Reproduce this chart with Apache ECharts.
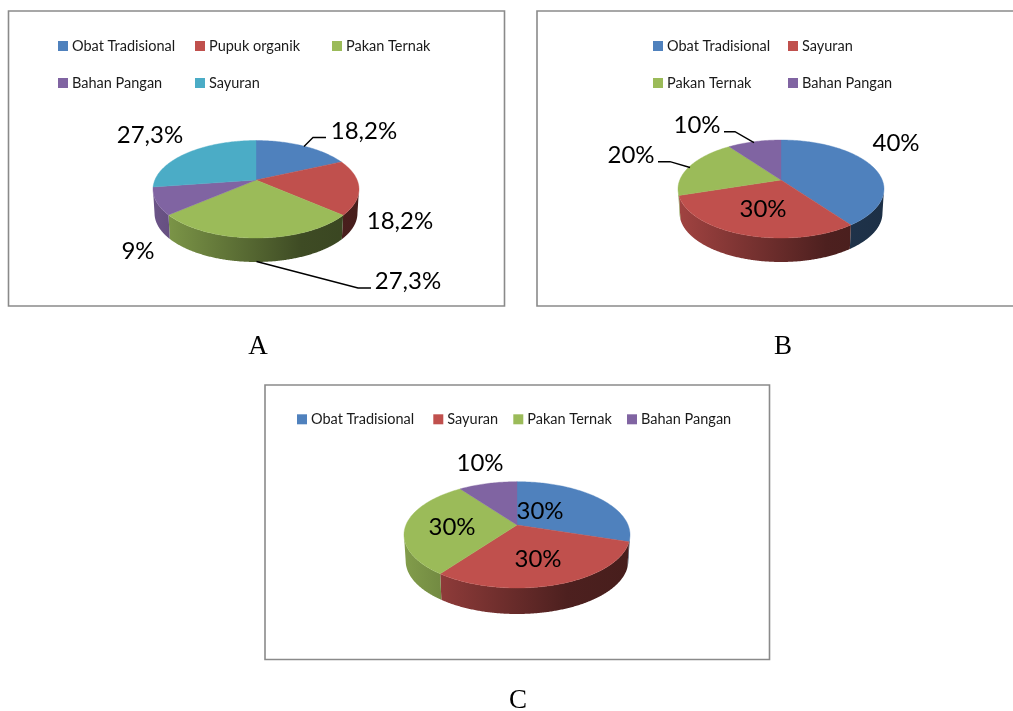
<!DOCTYPE html>
<html>
<head>
<meta charset="utf-8">
<title>Diagram pemanfaatan tumbuhan</title>
<script src="https://cdn.jsdelivr.net/npm/echarts@6/dist/echarts.min.js"></script>
<style>
  html, body { margin: 0; padding: 0; background: #fff; }
  #chart { width: 1013px; height: 711px; }
</style>
</head>
<body>
<div id="chart"></div>
<script>
// Shares per use category, one set of arrays for each pie
const categoriesA = ['Obat Tradisional', 'Pupuk organik', 'Pakan Ternak', 'Bahan Pangan', 'Sayuran'];
const valuesA = [18.2, 18.2, 27.3, 9, 27.3];
const categoriesB = ['Obat Tradisional', 'Sayuran', 'Pakan Ternak', 'Bahan Pangan'];
const valuesB = [40, 30, 20, 10];
const categoriesC = ['Obat Tradisional', 'Sayuran', 'Pakan Ternak', 'Bahan Pangan'];
const valuesC = [30, 30, 30, 10];
const panelLetters = ['A', 'B', 'C'];

const BLUE = '#4F81BD', RED = '#C0504D', GREEN = '#9BBB59', PURPLE = '#8064A2', TEAL = '#4BACC6';
const FONT = 'Lato, "Noto Sans", sans-serif';
const LEGEND_SIZE = 14.5;
const LABEL_SIZE = 24;

// Layout of each panel: frame, pie projection, legend cells, label centres and leader lines
const panels = [
  {
    categories: categoriesA, values: valuesA, colors: [BLUE, RED, GREEN, PURPLE, TEAL],
    frame: [8.5, 11, 504.5, 306],
    pie: { cx: 256, cy: 180, rx: 103, up: 39.5, down: 58, depth: 24 },
    legend: [[58, 46], [195, 46], [332, 46], [58, 83], [195, 83]],
    labels: [[364, 131], [400, 221], [408, 281], [138, 251], [150, 135]],
    leaders: [
      [[304, 146.5], [313, 137.5], [326, 137.5]],
      null,
      [[256.5, 261.5], [358, 288], [371, 288]],
      null, null
    ],
    letter: [258, 347]
  },
  {
    categories: categoriesB, values: valuesB, colors: [BLUE, RED, GREEN, PURPLE],
    frame: [537, 11, 1030, 306],
    pie: { cx: 781, cy: 180, rx: 103, up: 40, down: 58, depth: 24 },
    legend: [[653, 46], [788, 46], [653, 83], [788, 83]],
    labels: [[896, 143], [763, 209], [631, 155], [697, 125]],
    leaders: [
      null, null,
      [[690, 167.5], [670, 161.7], [658, 161.7]],
      [[754, 142.7], [735, 131.7], [724, 131.7]]
    ],
    letter: [783, 347]
  },
  {
    categories: categoriesC, values: valuesC, colors: [BLUE, RED, GREEN, PURPLE],
    frame: [265, 385, 769.5, 659.5],
    pie: { cx: 517, cy: 525, rx: 113, up: 43.3, down: 63, depth: 26 },
    legend: [[297, 419.3], [433.3, 419.3], [513.3, 419.3], [627, 419.3]],
    labels: [[540, 511], [538, 559], [452, 527], [480, 463]],
    leaders: [null, null, null, null],
    letter: [518, 701]
  }
];

// Projects a point of the unit disc through a simple perspective: near edge larger than far edge
function projector(pie) {
  const k = -(pie.down - pie.up) / (pie.down + pie.up);
  const a = pie.up * (1 - k);
  const c = pie.rx * Math.sqrt(1 - k * k);
  return {
    k,
    top: (t) => {
      const u = Math.sin(t), v = -Math.cos(t), w = 1 + k * v;
      return [pie.cx + c * u / w, pie.cy + a * v / w];
    }
  };
}

function shade(hex, f) {
  const n = parseInt(hex.slice(1), 16);
  const ch = (s) => Math.round(((n >> s) & 255) * f);
  return 'rgb(' + ch(16) + ',' + ch(8) + ',' + ch(0) + ')';
}

// Draws one slice: rim wall on the near side of the disc, then the flat top face
function sliceRenderer(panel, color, labelText, leader, labelPos) {
  const pie = panel.pie;
  const proj = projector(pie);
  return function (params, api) {
    const value = api.value(0);
    const start = api.value(1);
    const total = api.value(2);
    const a0 = start / total * 2 * Math.PI;
    const a1 = (start + value) / total * 2 * Math.PI;
    const step = Math.PI / 180;
    const arc = [];
    for (let t = a0; t < a1; t += step) arc.push(proj.top(t));
    arc.push(proj.top(a1));

    const children = [];
    // Rim: only the part of the arc below the widest line of the ellipse is visible
    const vLimit = -proj.k;
    const rimTop = [];
    for (let t = a0; t < a1 + step / 2; t += step / 2) {
      const tt = Math.min(t, a1);
      if (-Math.cos(tt) >= vLimit) rimTop.push(proj.top(tt));
    }
    if (rimTop.length > 1) {
      const shrink = 0.985;
      const rimBottom = rimTop.map((p) => [pie.cx + (p[0] - pie.cx) * shrink, p[1] + pie.depth]).reverse();
      children.push({
        type: 'polygon',
        shape: { points: rimTop.concat(rimBottom) },
        style: {
          fill: {
            type: 'linear', global: true,
            x: pie.cx - pie.rx, y: 0, x2: pie.cx + pie.rx, y2: 0,
            colorStops: [
              { offset: 0, color: shade(color, 0.84) },
              { offset: 0.72, color: shade(color, 0.4) },
              { offset: 1, color: shade(color, 0.37) }
            ]
          }
        }
      });
    }
    children.push({
      type: 'polygon',
      shape: { points: [[pie.cx, pie.cy]].concat(arc) },
      style: { fill: color, stroke: color, lineWidth: 0.4 }
    });
    if (leader) {
      children.push({
        type: 'polyline', z2: 5,
        shape: { points: leader },
        style: { fill: null, stroke: '#000', lineWidth: 1.4 }
      });
    }
    children.push({
      type: 'text', z2: 6,
      x: labelPos[0], y: labelPos[1],
      style: {
        text: labelText, fill: '#000', font: LABEL_SIZE + 'px ' + FONT,
        align: 'center', verticalAlign: 'middle'
      }
    });
    return { type: 'group', children };
  };
}

const series = [];
const legends = [];
const titles = [];
const frames = [];

panels.forEach((panel, p) => {
  const total = panel.values.reduce((s, v) => s + v, 0);
  let running = 0;
  panel.categories.forEach((name, i) => {
    const value = panel.values[i];
    const text = String(value).replace('.', ',') + '%';
    series.push({
      type: 'custom',
      name,
      coordinateSystem: 'none',
      silent: true,
      z: 3 + p,
      itemStyle: { color: panel.colors[i] },
      data: [[value, running, total]],
      renderItem: sliceRenderer(panel, panel.colors[i], text, panel.leaders[i], panel.labels[i])
    });
    running += value;
    legends.push({
      data: [{ name, itemStyle: { color: panel.colors[i] } }],
      selectedMode: false,
      orient: 'horizontal',
      left: panel.legend[i][0],
      top: panel.legend[i][1] - 9,
      padding: 0,
      icon: 'rect',
      itemWidth: 10,
      itemHeight: 10,
      textStyle: { fontFamily: FONT, fontSize: LEGEND_SIZE, color: '#1a1a1a', padding: [0, 0, 0, -1], lineHeight: 18 }
    });
  });
  titles.push({
    text: panelLetters[p],
    left: panel.letter[0],
    top: panel.letter[1],
    textAlign: 'center',
    textVerticalAlign: 'middle',
    padding: 0,
    textStyle: { fontFamily: '"Liberation Serif", serif', fontSize: 27, fontWeight: 'normal', color: '#000' }
  });
  const f = panel.frame;
  frames.push({
    type: 'rect', z: 0, silent: true,
    shape: { x: f[0], y: f[1], width: f[2] - f[0], height: f[3] - f[1] },
    style: { fill: '#fff', stroke: '#8a8a8a', lineWidth: 1.6 }
  });
});

const chart = echarts.init(document.getElementById('chart'), null, { renderer: 'canvas' });
chart.setOption({
  animation: false,
  backgroundColor: '#fff',
  title: titles,
  legend: legends,
  tooltip: { show: false },
  graphic: { elements: frames },
  series
});
</script>
</body>
</html>
